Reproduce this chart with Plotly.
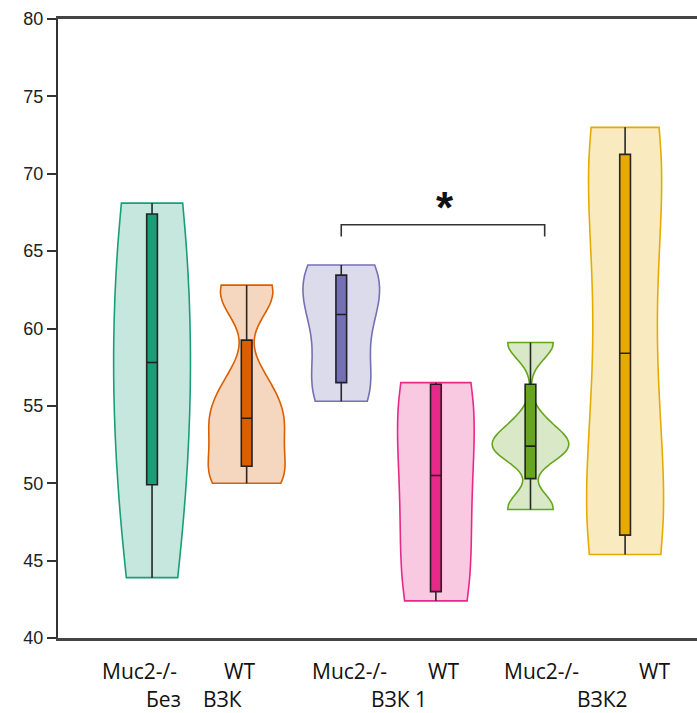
import plotly.graph_objects as go

# ---- data ----
groups = ["Muc2-/- Без ВЗК", "WT Без ВЗК", "Muc2-/- ВЗК 1", "WT ВЗК 1", "Muc2-/- ВЗК2", "WT ВЗК2"]
teal_vals = [43.9, 44.2, 49.2, 50.6, 52.0, 55.4, 60.2, 61.0, 67.0, 67.8, 68.0, 68.1]
orange_vals = [50.0, 50.2, 52.0, 53.8, 54.6, 56.5, 62.0, 62.8]
purple_vals = [55.3, 56.0, 57.0, 60.3, 61.5, 62.8, 64.1, 64.1]
pink_vals = [42.4, 42.6, 43.4, 48.8, 52.2, 56.3, 56.5, 56.5]
green_vals = [48.3, 48.4, 52.2, 52.3, 52.5, 53.8, 59.0, 59.1]
yellow_vals = [45.4, 45.9, 47.4, 56.2, 60.6, 70.6, 71.9, 73.0]
series = [teal_vals, orange_vals, purple_vals, pink_vals, green_vals, yellow_vals]
bandwidths = [10.0, 1.6, 2.3, 5.0, 1.0, 7.0]

row1_labels = ["Muc2-/-", "WT", "Muc2-/-", "WT", "Muc2-/-", "WT"]
row2_labels = ["Без", "ВЗК", "ВЗК 1", "ВЗК2"]
y_ticks = [40, 45, 50, 55, 60, 65, 70, 75, 80]
sig_pair = (2, 4)
sig_label = "*"
sig_level = 66.7

# ---- styles ----
colors = ["#1b9e77", "#d95f02", "#7570b3", "#e7298a", "#66a61e", "#e6ab02"]
fills = ["rgba(27,158,119,0.25)", "rgba(217,95,2,0.25)", "rgba(117,112,179,0.25)",
         "rgba(231,41,138,0.25)", "rgba(102,166,30,0.25)", "rgba(230,171,2,0.25)"]

fig = go.Figure()
for i, vals in enumerate(series):
    fig.add_trace(go.Violin(
        y=vals, x0=i, name=groups[i],
        width=0.81, scalemode="width", spanmode="hard",
        bandwidth=bandwidths[i],
        line=dict(color=colors[i], width=1.6),
        fillcolor=fills[i],
        points=False, meanline_visible=False,
        box=dict(visible=True, width=0.14, fillcolor=colors[i],
                 line=dict(color="rgba(20,20,20,0.9)", width=1.6)),
        showlegend=False, hoverinfo="skip",
    ))

# significance bracket
x_a, x_b = sig_pair[0], sig_pair[1] + 0.15
fig.add_shape(type="path", xref="x", yref="y",
              path=f"M {x_a},{sig_level-0.75} L {x_a},{sig_level} L {x_b},{sig_level} L {x_b},{sig_level-0.75}",
              line=dict(color="#333", width=1.6))
fig.add_annotation(x=(x_a + x_b) / 2 + 0.02, y=sig_level - 0.6, xref="x", yref="y",
                   text=f"<b>{sig_label}</b>", showarrow=False, yanchor="bottom",
                   font=dict(family="Liberation Sans", size=44, color="#111"))

# category labels
row1_x = [-0.13, 0.92, 2.09, 3.08, 4.12, 5.31]
row2_x = [0.116, 0.74, 2.61, 4.76]
lab_font = dict(family="Open Sans", size=21, color="#111")
for t, x in zip(row1_labels, row1_x):
    fig.add_annotation(x=x, y=-0.0534, xref="x", yref="paper", text=t, showarrow=False,
                       font=lab_font, yanchor="middle")
for t, x in zip(row2_labels, row2_x):
    fig.add_annotation(x=x, y=-0.098, xref="x", yref="paper", text=t, showarrow=False,
                       font=lab_font, yanchor="middle")

fig.update_layout(
    width=697, height=713,
    margin=dict(l=58, r=0, t=19, b=75),
    paper_bgcolor="white", plot_bgcolor="white",
    violinmode="overlay",
    xaxis=dict(range=[-0.994, 5.76], showticklabels=False, ticks="", showgrid=False,
               zeroline=False, showline=True, linecolor="#444", linewidth=2.5, mirror=True),
    yaxis=dict(range=[40, 80], tickvals=y_ticks, ticks="outside", ticklen=9, tickwidth=1.5,
               tickcolor="#333", showgrid=False, zeroline=False, showline=True,
               linecolor="#333", linewidth=2.2, mirror=False,
               tickfont=dict(family="Liberation Sans", size=18, color="#222")),
)

fig.write_html("out.html")
